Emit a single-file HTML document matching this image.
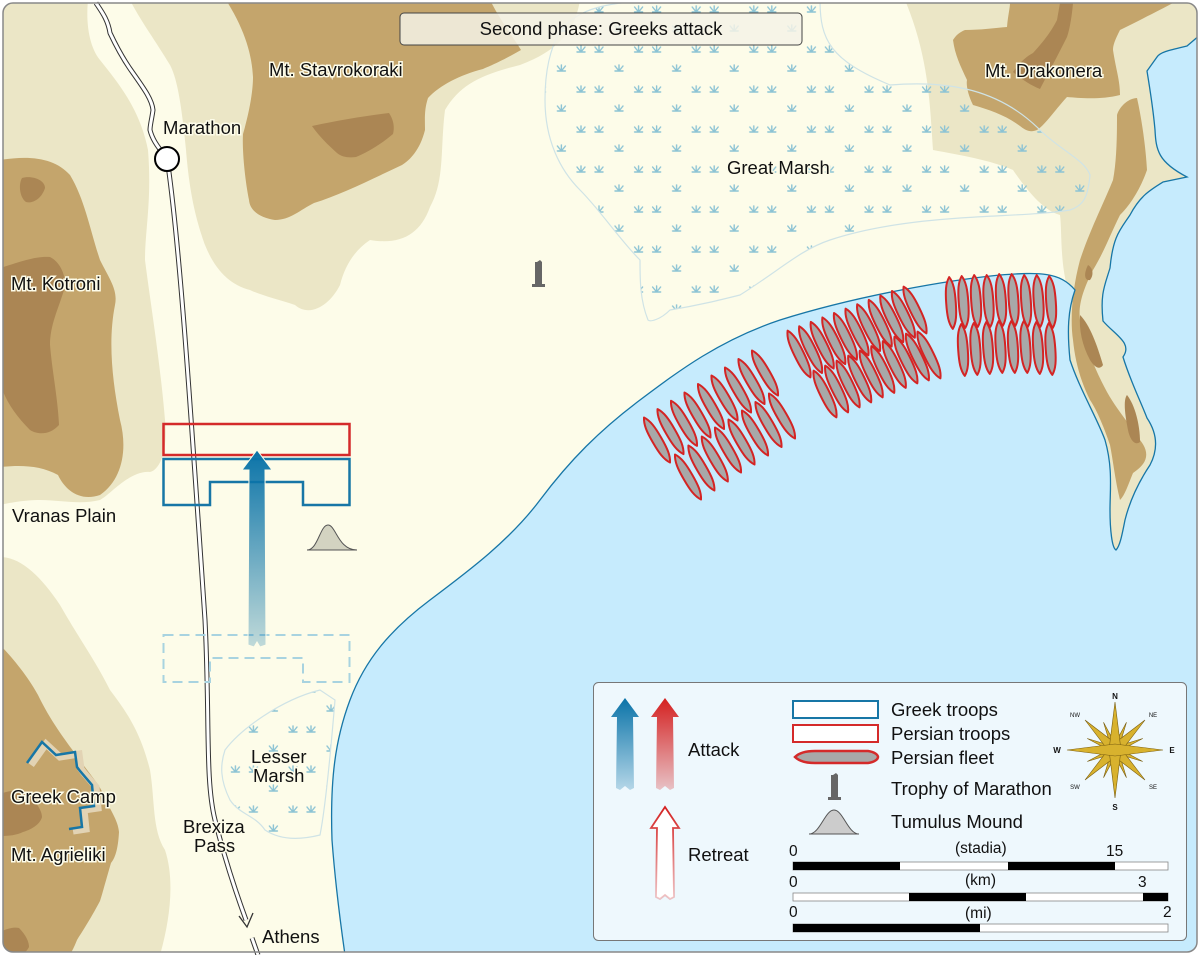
<!DOCTYPE html>
<html><head><meta charset="utf-8"><style>
html,body{margin:0;padding:0;background:#fff}
svg{display:block}
text{font-family:"Liberation Sans",sans-serif;fill:#111}
.lbl{font-size:18.5px;stroke:#fdfce9;stroke-width:3px;paint-order:stroke}
.lg{font-size:18.5px}
</style></head><body>
<svg width="1200" height="955" viewBox="0 0 1200 955" xmlns="http://www.w3.org/2000/svg">
<defs>
<clipPath id="frame"><rect x="3" y="3" width="1194" height="949" rx="10"/></clipPath>
<pattern id="marsh" width="57.6" height="40" patternUnits="userSpaceOnUse">
 <g fill="none" stroke="#8cc3d4" stroke-width="1.4" stroke-linecap="round">
  <path d="M5 12 l-4-5 M5 12 v-6 M5 12 l4-5 M1 12 h8"/>
  <path d="M23 12 l-4-5 M23 12 v-6 M23 12 l4-5 M19 12 h8"/>
  <path d="M43 31 l-4-5 M43 31 v-6 M43 31 l4-5 M39 31 h8"/>
 </g>
</pattern>
<linearGradient id="gb" x1="0" y1="0" x2="0" y2="1"><stop offset="0" stop-color="#0a73a8"/><stop offset="1" stop-color="#0a73a8" stop-opacity="0.25"/></linearGradient>
<linearGradient id="gr" x1="0" y1="0" x2="0" y2="1"><stop offset="0" stop-color="#d42020"/><stop offset="1" stop-color="#d42020" stop-opacity="0.25"/></linearGradient>
<g id="ship"><path d="M0 -26 C4 -20 4.8 -12 4.8 0 C4.8 12 4 20 0 26 C-4 20 -4.8 12 -4.8 0 C-4.8 -12 -4 -20 0 -26 Z" fill="#a8a8a8" stroke="#d42424" stroke-width="2" stroke-linejoin="round"/></g>
</defs>
<g clip-path="url(#frame)">
<rect width="1200" height="955" fill="#fdfce9"/>
<!-- light terrain -->
<g fill="#ebe6c6">
<path d="M0 0 L88 0 C86 20 88 45 100 60 C120 85 140 110 148 150 C152 200 145 230 145 260 C150 300 160 360 165 420 C168 450 160 470 150 472 C130 470 110 495 100 500 C80 505 60 500 40 500 C20 500 0 505 0 505 Z"/>
<path d="M130 0 L580 0 C575 30 560 50 520 65 C480 75 460 85 445 110 C440 150 445 180 430 207 C420 235 400 245 370 240 C355 250 345 265 340 285 C330 305 310 318 295 305 C280 300 260 295 250 290 C230 285 215 270 205 245 C198 225 190 200 186 150 C182 110 178 80 170 65 C155 40 140 20 130 0 Z"/>
<path d="M0 557 C20 557 40 575 60 605 C80 640 95 660 110 690 C125 710 140 730 150 770 C155 800 152 830 165 850 C175 880 170 920 160 955 L0 955 Z"/>
<path d="M905 0 L1200 0 L1200 35 L1187 46 C1170 50 1160 52 1157 57 L1147 71 C1150 90 1153 107 1155 130 C1156 150 1158 162 1187 177 L1163 182 C1150 190 1140 196 1130 215 C1120 230 1113 236 1110 268 C1105 285 1100 293 1103 321 C1115 335 1133 343 1123 357 C1130 380 1140 400 1147 418 C1155 430 1160 446 1150 465 C1140 480 1130 500 1125 520 C1122 535 1120 546 1116 550 C1110 548 1110 520 1110 500 C1112 480 1113 468 1105 440 C1097 418 1080 390 1070 360 C1065 340 1067 310 1067 286 C1060 260 1062 230 1060 215 C1040 210 1020 180 1013 170 C990 160 960 155 933 150 C930 110 930 60 905 0 Z"/>
</g>
<!-- mid terrain -->
<g fill="#c4a56c">
<path d="M0 160 C30 155 55 158 70 175 C85 200 90 230 100 260 C110 280 118 290 115 305 C108 340 112 380 120 420 C128 450 122 480 100 495 C80 502 65 490 58 475 C40 465 20 465 0 467 Z"/>
<path d="M226 0 L490 0 C500 20 515 40 521 50 C500 62 490 66 483 69 C460 75 440 85 428 98 C424 110 425 120 425 130 C420 150 410 160 402 165 C370 180 340 195 314 203 C300 210 290 220 275 220 C262 218 250 212 249 200 C245 180 242 150 243 134 C250 110 253 90 253 77 C252 55 245 30 226 0 Z"/>
<path d="M0 645 C15 660 30 680 38 695 C50 720 65 740 77 756 C90 775 100 785 103 794 C110 810 118 820 119 832 C118 850 115 858 111 863 C106 880 102 895 100 901 C90 920 80 935 77 940 C73 950 70 955 69 955 L0 955 Z"/>
<path d="M953 40 C956 35 960 32 965 30 C980 30 995 28 1007 27 C1008 15 1010 8 1010 3 L1173 3 C1160 10 1140 20 1120 30 C1115 40 1113 45 1113 50 C1116 70 1120 80 1120 95 C1100 100 1080 98 1067 97 C1055 110 1045 125 1037 130 C1030 133 1025 130 1020 126 C1005 115 990 110 973 105 C968 95 966 85 967 80 C960 65 955 55 953 40 Z"/>
<path d="M1117 115 C1120 105 1130 98 1137 98 C1142 120 1146 150 1147 170 C1140 190 1130 205 1120 215 C1110 235 1105 250 1093 270 C1083 290 1078 305 1080 320 C1085 345 1095 370 1107 392 C1120 415 1135 430 1140 440 C1152 455 1145 465 1133 473 C1128 485 1125 495 1120 500 C1115 480 1113 460 1110 445 C1105 430 1097 410 1090 400 C1080 380 1075 360 1073 340 C1070 320 1072 290 1080 260 C1090 230 1105 200 1113 180 C1117 160 1117 130 1117 115 Z"/>
</g>
<!-- dark terrain -->
<g fill="#ab8654">
<path d="M22 178 C32 175 45 180 45 188 C42 198 33 204 26 202 C20 198 18 185 22 178 Z"/>
<path d="M0 268 C20 262 35 256 50 257 C60 262 66 275 65 287 C58 310 50 325 50 345 C52 370 58 400 59 425 C50 435 38 435 30 430 C15 415 5 400 0 383 Z"/>
<path d="M312 126 C340 120 365 116 389 113 C395 122 394 130 393 134 C380 145 368 152 356 157 C348 158 342 157 337 153 C328 145 318 135 312 126 Z"/>
<path d="M0 794 C10 790 20 790 25 792 C35 800 42 810 42 817 C40 825 30 830 23 832 C15 836 5 836 0 836 Z"/>
<path d="M0 932 C8 928 15 927 19 928 C26 935 29 942 29 947 C25 955 20 955 0 955 Z"/>
<path d="M1060 3 L1073 3 C1072 15 1070 28 1067 37 C1058 55 1050 70 1040 89 C1030 85 1020 78 1013 72 C1020 62 1027 56 1033 53 C1045 40 1052 30 1057 20 Z"/>
<path d="M1088 265 C1093 268 1094 275 1090 280 C1085 281 1083 275 1088 265 Z"/>
<path d="M1080 315 C1090 325 1097 345 1103 365 C1100 370 1095 368 1090 360 C1082 345 1079 330 1080 315 Z"/>
<path d="M1127 395 C1135 405 1140 425 1140 442 C1135 446 1130 440 1128 430 C1125 415 1123 400 1127 395 Z"/>
</g>
<!-- great marsh -->
<path d="M560 30 C580 10 600 0 680 0 L820 0 C820 40 830 60 890 85 C950 80 1000 90 1040 130 C1060 150 1085 160 1090 175 C1088 195 1085 205 1070 210 C1040 215 1000 215 960 218 C900 222 860 230 830 240 C800 250 780 270 740 295 C720 300 700 305 670 310 C660 320 650 322 648 320 C640 300 640 280 640 260 C620 240 600 210 580 190 C560 170 545 140 545 100 C545 70 550 50 560 30 Z" fill="url(#marsh)" stroke="#cfe3e6" stroke-width="1.2"/>
<!-- lesser marsh -->
<path d="M225 750 C240 730 280 700 320 690 L335 700 C330 760 325 810 320 835 C300 840 280 840 265 830 C255 815 240 815 230 800 C220 780 220 765 225 750 Z" fill="url(#marsh)" stroke="#cfe3e6" stroke-width="1.2"/>
<!-- sea -->
<path d="M345 955 C340 920 335 880 332 840 C330 780 335 740 350 700 C365 660 390 630 430 600 C470 570 510 540 540 500 C570 460 600 430 640 400 C680 370 720 340 780 320 C860 295 950 280 1000 275 C1040 272 1060 272 1075 290 C1068 310 1067 330 1070 360 C1080 390 1097 418 1105 440 C1113 468 1110 490 1110 510 C1110 530 1112 548 1116 550 C1120 546 1122 535 1125 520 C1130 500 1140 480 1150 465 C1160 446 1155 430 1147 418 C1140 400 1130 380 1123 357 C1133 343 1115 335 1103 321 C1100 293 1105 285 1110 268 C1113 236 1120 230 1130 215 C1140 196 1150 190 1163 182 L1187 177 C1158 162 1156 150 1155 130 C1153 107 1150 90 1147 71 L1157 57 C1160 52 1170 50 1187 46 L1200 35 L1200 955 Z" fill="#c6ebfd" stroke="#1776a6" stroke-width="1.3"/>
</g>
<!-- road -->
<g fill="none">
<path d="M96 3 C102 12 108 20 110 33 C118 50 125 62 133 73 C145 90 152 100 153 110 C152 118 150 125 150 130 C152 138 156 145 166 157 M168 165 C180 250 190 400 205 620 C210 720 205 780 215 820 C225 860 235 890 246 920" stroke="#333" stroke-width="5"/>
<path d="M96 3 C102 12 108 20 110 33 C118 50 125 62 133 73 C145 90 152 100 153 110 C152 118 150 125 150 130 C152 138 156 145 166 157 M168 165 C180 250 190 400 205 620 C210 720 205 780 215 820 C225 860 235 890 246 920" stroke="#fff" stroke-width="3"/>
</g>
<path d="M239 916 L247 927 L253 913" fill="none" stroke="#333" stroke-width="1.3"/>
<path d="M252 938 L258 955" stroke="#333" stroke-width="5"/><path d="M252 938 L258 955" stroke="#fff" stroke-width="3"/>
<circle cx="167" cy="159" r="12" fill="#fff" stroke="#000" stroke-width="2"/>
<!-- troops -->
<rect x="163.5" y="424" width="186" height="31" fill="none" stroke="#d42a2a" stroke-width="2.5"/>
<path d="M163.5 459 H349.5 V505 H303 V482 H210 V505 H163.5 Z" fill="none" stroke="#1776a6" stroke-width="2.5"/>
<path d="M163.5 635 H349.5 V682 H303 V658 H210 V682 H163.5 Z" fill="none" stroke="#a8d3e0" stroke-width="2" stroke-dasharray="10 6"/>
<path d="M257 450 L272 470 L265 470 L266 645 L260 647 L257 642 L254 647 L248 645 L249 470 L242 470 Z" fill="url(#gb)" stroke="#fdfce9" stroke-width="1"/>
<!-- tumulus & trophy -->
<path d="M307 550 C318 550 320 525 328 525 C336 525 338 550 357 550 Z" fill="#d3d3c1" stroke="#555" stroke-width="1"/>
<path d="M537 262 L540 260 L542 262 V284 H545 V287 H532 V284 H535 V262 Z" fill="#666"/>
<!-- greek camp -->
<path d="M27 763 L42 742 L56 755 L75 752 L77 767 L80 771 L92 785 L94 806 L80 808 L82 827 L69 829" fill="none" stroke="#e2d3b4" stroke-width="7" transform="translate(4,2)"/>
<path d="M27 763 L42 742 L56 755 L75 752 L77 767 L80 771 L92 785 L94 806 L80 808 L82 827 L69 829" fill="none" stroke="#1776a6" stroke-width="2.5"/>
<!-- ships -->
<g>
<use href="#ship" transform="translate(657,440) rotate(-30)"/><use href="#ship" transform="translate(670.5,431.6) rotate(-30)"/><use href="#ship" transform="translate(684,423.3) rotate(-30)"/><use href="#ship" transform="translate(697.5,415) rotate(-30)"/><use href="#ship" transform="translate(711,406.5) rotate(-30)"/><use href="#ship" transform="translate(724.5,398) rotate(-30)"/><use href="#ship" transform="translate(738,390) rotate(-30)"/><use href="#ship" transform="translate(751.5,381.5) rotate(-30)"/><use href="#ship" transform="translate(765,373) rotate(-30)"/>
<use href="#ship" transform="translate(688,477) rotate(-30)"/><use href="#ship" transform="translate(701.4,468) rotate(-30)"/><use href="#ship" transform="translate(714.8,459) rotate(-30)"/><use href="#ship" transform="translate(728,450) rotate(-30)"/><use href="#ship" transform="translate(741.5,442) rotate(-30)"/><use href="#ship" transform="translate(755,433) rotate(-30)"/><use href="#ship" transform="translate(768.5,424.5) rotate(-30)"/><use href="#ship" transform="translate(782,416) rotate(-30)"/>
<use href="#ship" transform="translate(799,354) rotate(-26)"/><use href="#ship" transform="translate(810.6,349.6) rotate(-26)"/><use href="#ship" transform="translate(822.2,345.2) rotate(-26)"/><use href="#ship" transform="translate(833.8,340.8) rotate(-26)"/><use href="#ship" transform="translate(845.4,336.4) rotate(-26)"/><use href="#ship" transform="translate(857,332) rotate(-26)"/><use href="#ship" transform="translate(868.6,327.6) rotate(-26)"/><use href="#ship" transform="translate(880.2,323.2) rotate(-26)"/><use href="#ship" transform="translate(891.8,318.8) rotate(-26)"/><use href="#ship" transform="translate(903.4,314.4) rotate(-26)"/><use href="#ship" transform="translate(915,310) rotate(-26)"/>
<use href="#ship" transform="translate(825,394) rotate(-26)"/><use href="#ship" transform="translate(836.6,389) rotate(-26)"/><use href="#ship" transform="translate(848.1,384) rotate(-26)"/><use href="#ship" transform="translate(859.7,379) rotate(-26)"/><use href="#ship" transform="translate(871.2,374) rotate(-26)"/><use href="#ship" transform="translate(882.8,369.5) rotate(-26)"/><use href="#ship" transform="translate(894.3,364.5) rotate(-26)"/><use href="#ship" transform="translate(905.9,360) rotate(-26)"/><use href="#ship" transform="translate(917.4,357) rotate(-26)"/><use href="#ship" transform="translate(929,355) rotate(-26)"/>
<use href="#ship" transform="translate(951,303) rotate(-4)"/><use href="#ship" transform="translate(963.5,302) rotate(-4)"/><use href="#ship" transform="translate(976,301) rotate(-4)"/><use href="#ship" transform="translate(988.5,301) rotate(-4)"/><use href="#ship" transform="translate(1001,300) rotate(-4)"/><use href="#ship" transform="translate(1013.5,300) rotate(-4)"/><use href="#ship" transform="translate(1026,301) rotate(-4)"/><use href="#ship" transform="translate(1038.5,301) rotate(-4)"/><use href="#ship" transform="translate(1051,302) rotate(-4)"/>
<use href="#ship" transform="translate(963,350) rotate(-4)"/><use href="#ship" transform="translate(975.5,349) rotate(-4)"/><use href="#ship" transform="translate(988,348) rotate(-4)"/><use href="#ship" transform="translate(1000.5,347) rotate(-4)"/><use href="#ship" transform="translate(1013,347) rotate(-4)"/><use href="#ship" transform="translate(1025.5,347) rotate(-4)"/><use href="#ship" transform="translate(1038,348) rotate(-4)"/><use href="#ship" transform="translate(1050.5,349) rotate(-4)"/>
</g>
<!-- labels -->
<text class="lbl" x="269" y="76">Mt. Stavrokoraki</text>
<text class="lbl" x="163" y="134">Marathon</text>
<text class="lbl" x="11" y="290">Mt. Kotroni</text>
<text class="lbl" x="12" y="522">Vranas Plain</text>
<text class="lbl" x="11" y="803">Greek Camp</text>
<text class="lbl" x="11" y="861">Mt. Agrieliki</text>
<text class="lbl" x="183" y="833">Brexiza</text>
<text class="lbl" x="194" y="852">Pass</text>
<text class="lbl" x="262" y="943">Athens</text>
<text class="lbl" x="251" y="763">Lesser</text>
<text class="lbl" x="253" y="782">Marsh</text>
<text class="lbl" x="727" y="174">Great Marsh</text>
<text class="lbl" x="985" y="77">Mt. Drakonera</text>
<!-- title -->
<rect x="400" y="13" width="402" height="32" rx="4" fill="#f5f2e6" fill-opacity="0.85" stroke="#444" stroke-width="1"/>
<text x="601" y="35" font-size="18.5" text-anchor="middle">Second phase: Greeks attack</text>
<!-- legend -->
<rect x="593.5" y="682.5" width="593" height="258" rx="5" fill="#eef8fd" stroke="#777" stroke-width="1"/>
<path d="M625 698 L639 717 L633 717 L634 788 L630 790 L625 786 L620 790 L616 788 L617 717 L611 717 Z" fill="url(#gb)"/>
<path d="M665 698 L679 717 L673 717 L674 788 L670 790 L665 786 L660 790 L656 788 L657 717 L651 717 Z" fill="url(#gr)"/>
<path d="M665 807 L679 828 L673 828 L674 897 L670 899 L665 895 L660 899 L656 897 L657 828 L651 828 Z" fill="#fff" stroke="url(#gr)" stroke-width="1.8"/>
<text class="lg" x="688" y="756">Attack</text>
<text class="lg" x="688" y="861">Retreat</text>
<rect x="793" y="701" width="85" height="17" fill="#fff" stroke="#1776a6" stroke-width="2"/>
<rect x="793" y="725" width="85" height="17" fill="#fff" stroke="#d42a2a" stroke-width="2"/>
<path d="M795 757 C800 752 808 751 815 751 L868 751 C875 752 878 755 878 757 C878 759 875 762 868 763 L815 763 C808 763 800 762 795 757 Z" fill="#a8a8a8" stroke="#d42a2a" stroke-width="2.5"/>
<text class="lg" x="891" y="716">Greek troops</text>
<text class="lg" x="891" y="740">Persian troops</text>
<text class="lg" x="891" y="764">Persian fleet</text>
<text class="lg" x="891" y="795">Trophy of Marathon</text>
<text class="lg" x="891" y="828">Tumulus Mound</text>
<path d="M833 775 L836 773 L838 775 V797 H841 V800 H828 V797 H831 V775 Z" fill="#666"/>
<path d="M809 834 C820 834 825 810 834 810 C843 810 848 834 859 834 Z" fill="#ccc" stroke="#555" stroke-width="1"/>
<!-- scale bars -->
<text x="789" y="856" font-size="15.5">0</text><text x="955" y="853" font-size="15.5">(stadia)</text><text x="1106" y="856" font-size="15.5">15</text>
<rect x="793" y="862" width="375" height="8" fill="#fff" stroke="#888" stroke-width="0.8"/>
<rect x="793" y="862" width="107" height="8" fill="#000"/><rect x="1008" y="862" width="107" height="8" fill="#000"/>
<text x="789" y="887" font-size="15.5">0</text><text x="965" y="885" font-size="15.5">(km)</text><text x="1138" y="887" font-size="15.5">3</text>
<rect x="793" y="893" width="375" height="8" fill="#fff" stroke="#888" stroke-width="0.8"/>
<rect x="909" y="893" width="117" height="8" fill="#000"/><rect x="1143" y="893" width="25" height="8" fill="#000"/>
<text x="789" y="917" font-size="15.5">0</text><text x="965" y="918" font-size="15.5">(mi)</text><text x="1163" y="917" font-size="15.5">2</text>
<rect x="793" y="924" width="375" height="8" fill="#fff" stroke="#888" stroke-width="0.8"/>
<rect x="793" y="924" width="187" height="8" fill="#000"/>
<!-- compass -->
<g transform="translate(1115,750)">
<g fill="#d8b22e" stroke="#7a5e10" stroke-width="0.6">
<path d="M0 -30 L3 0 L0 30 L-3 0 Z" transform="rotate(22.5)"/><path d="M0 -30 L3 0 L0 30 L-3 0 Z" transform="rotate(67.5)"/>
<path d="M0 -30 L3 0 L0 30 L-3 0 Z" transform="rotate(112.5)"/><path d="M0 -30 L3 0 L0 30 L-3 0 Z" transform="rotate(157.5)"/>
<path d="M-30 -30 L4 -4 L30 30 L-4 4 Z"/><path d="M30 -30 L4 4 L-30 30 L-4 -4 Z"/>
<path d="M0 -48 L6 0 L0 48 L-6 0 Z"/><path d="M-48 0 L0 -6 L48 0 L0 6 Z"/>
</g>
<text x="0" y="-51" font-size="8" font-weight="bold" text-anchor="middle">N</text>
<text x="0" y="60" font-size="8" font-weight="bold" text-anchor="middle">S</text>
<text x="-58" y="3" font-size="8" font-weight="bold" text-anchor="middle">W</text>
<text x="57" y="3" font-size="8" font-weight="bold" text-anchor="middle">E</text>
<text x="-40" y="-33" font-size="6" fill="#555" text-anchor="middle">NW</text>
<text x="38" y="-33" font-size="6" fill="#555" text-anchor="middle">NE</text>
<text x="-40" y="39" font-size="6" fill="#555" text-anchor="middle">SW</text>
<text x="38" y="39" font-size="6" fill="#555" text-anchor="middle">SE</text>
</g>
<rect x="3" y="3" width="1194" height="949" rx="10" fill="none" stroke="#888" stroke-width="1.5"/>
</svg>
</body></html>
